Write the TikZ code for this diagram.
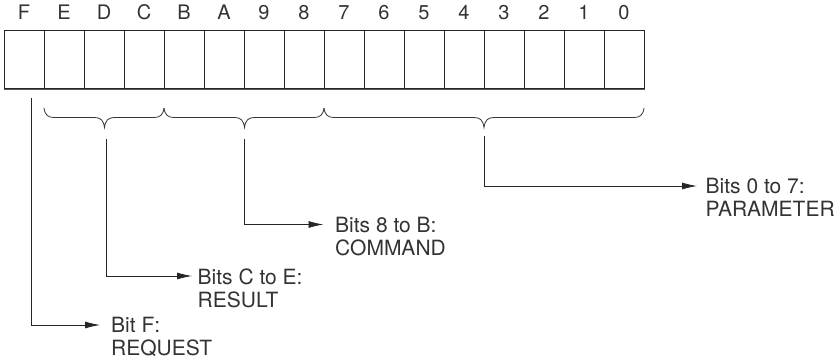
\documentclass[tikz,border=0pt]{standalone}
\usepackage{fontspec}
\setmainfont{TeX Gyre Heros}
\usetikzlibrary{arrows.meta}
\begin{document}
\begin{tikzpicture}[x=1pt,y=-1pt,
  cell/.style={draw=black!85, line width=0.9pt, minimum width=40pt, minimum height=58.3pt, inner sep=0pt, anchor=north west},
  bitlbl/.style={anchor=base, inner sep=0pt, font=\fontsize{20}{23}\selectfont, text=black!80},
  desc/.style={anchor=north west, inner sep=0pt, align=left, font=\fontsize{21}{23}\selectfont, text=black!80},
  conn/.style={draw=black!85, line width=0.8pt, -{Latex[length=15pt,width=7pt]}},
  brc/.style={draw=black!80, line width=0.8pt}]
\useasboundingbox (0,0) rectangle (836,360);
% register cells and bit labels
\foreach [count=\i from 0] \l in {F,E,D,C,B,A,9,8,7,6,5,4,3,2,1,0} {
  \node[cell] (c\i) at ({4+40*\i},30) {};
  \node[bitlbl] (l\i) at ({24+40*\i},19.6) {\l};
}
\draw[line width=1.3pt, black!65] (c0.south west) -- (c15.south east);
% braces
\newcommand\regbrace[3]{%
  \draw[brc] (#1,108) .. controls ({#1+1},115) and ({#1+4},117.5) .. ({#1+10},117.5)
    -- ({#2-10},117.5) .. controls ({#2-4},117.5) and ({#2-1},120) .. (#2,127.5)
    .. controls ({#2+1},120) and ({#2+4},117.5) .. ({#2+10},117.5)
    -- ({#3-10},117.5) .. controls ({#3-4},117.5) and ({#3-1},115) .. (#3,108);}
\regbrace{44}{104.5}{164}
\regbrace{164}{244.5}{324}
\regbrace{324}{484}{644}
% descriptions
\node[desc] (req) at (111,317.4) {Bit F:\\REQUEST};
\node[desc] (res) at (197.5,268.4) {Bits C to E:\\RESULT};
\node[desc] (cmd) at (335,216.8) {Bits 8 to B:\\COMMAND};
\node[desc] (par) at (705.5,178.3) {Bits 0 to 7:\\PARAMETER};
% connector ends
\coordinate (sF) at (31.7,97.7);
\coordinate (eF) at (100,325);
\coordinate (sR) at (106.5,139);
\coordinate (eR) at (192,276);
\coordinate (sC) at (244.5,139);
\coordinate (eC) at (323.5,224.5);
\coordinate (sP) at (484,136);
\coordinate (eP) at (697,186);
\draw[conn] (sF) |- (eF);
\draw[conn] (sR) |- (eR);
\draw[conn] (sC) |- (eC);
\draw[conn] (sP) |- (eP);
\end{tikzpicture}
\end{document}
